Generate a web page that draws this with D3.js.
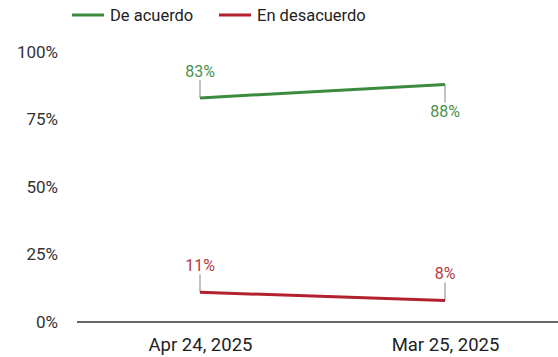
<!DOCTYPE html>
<html>
<head>
<meta charset="utf-8">
<script src="https://cdn.jsdelivr.net/npm/d3@7/dist/d3.min.js"></script>
<style>
  html, body { margin: 0; padding: 0; background: #fff; }
  svg { display: block; font-family: Roboto, "Noto Sans", sans-serif; }
</style>
</head>
<body>
<svg id="chart" width="558" height="357"></svg>
<script>
// Survey results at two dates
const dates = ["Apr 24, 2025", "Mar 25, 2025"];
const seriesNames = ["De acuerdo", "En desacuerdo"];
const agreeValues = [83, 88];
const disagreeValues = [11, 8];
const yTicks = [0, 25, 50, 75, 100];
const colors = ["#3b8a3e", "#b3202e"];
const labelColors = ["#4a8f4c", "#b33a44"];
// Label placement per point: -1 above, +1 below
const agreeLabelSide = [-1, 1];
const disagreeLabelSide = [-1, -1];

const svg = d3.select("#chart");
const W = 558;
const axisLeft = 77;

const x = d3.scalePoint().domain(dates).range([200, 445]);
const y = d3.scaleLinear().domain([0, 100]).range([322, 52]);

// Y tick labels (no gridlines)
const yAxis = d3.axisLeft(y).tickValues(yTicks).tickFormat(d => d + "%").tickSize(0).tickPadding(0);
const gy = svg.append("g").attr("transform", "translate(58,0)").call(yAxis);
gy.select(".domain").remove();
gy.selectAll("text").attr("font-size", 17).attr("fill", "#333").attr("font-family", "Roboto, sans-serif");

// X axis baseline with date labels
const xAxis = d3.axisBottom(x).tickSize(0).tickPadding(16);
const gx = svg.append("g").attr("transform", `translate(0,${y(0)})`).call(xAxis);
gx.select(".domain").attr("d", `M${axisLeft},0H${W}`).attr("stroke", "#333").attr("stroke-width", 1.3);
gx.selectAll("text").attr("font-size", 18.5).attr("fill", "#222").attr("font-family", "Roboto, sans-serif");

const series = [
  { name: seriesNames[0], values: agreeValues, sides: agreeLabelSide, color: colors[0], label: labelColors[0] },
  { name: seriesNames[1], values: disagreeValues, sides: disagreeLabelSide, color: colors[1], label: labelColors[1] }
];

const line = d3.line().x((d, i) => x(dates[i])).y(d => y(d));

series.forEach(s => {
  const g = svg.append("g");
  // leader lines from points to labels
  s.values.forEach((v, i) => {
    const px = x(dates[i]), py = y(v);
    const side = s.sides[i];
    g.append("line")
      .attr("x1", px).attr("x2", px)
      .attr("y1", py).attr("y2", py + side * 18)
      .attr("stroke", "#999").attr("stroke-width", 1.2);
    g.append("text")
      .attr("x", px).attr("y", py + side * 27)
      .attr("dy", "0.35em")
      .attr("text-anchor", "middle")
      .attr("font-size", 16)
      .attr("fill", s.label)
      .text(v + "%");
  });
  g.append("path")
    .datum(s.values)
    .attr("d", line)
    .attr("fill", "none")
    .attr("stroke", s.color)
    .attr("stroke-width", 3);
});

// Legend
const legend = svg.append("g").attr("transform", "translate(0,15)");
const legendX = [72, 219];
series.forEach((s, i) => {
  const lg = legend.append("g").attr("transform", `translate(${legendX[i]},0)`);
  lg.append("line").attr("x1", 0).attr("x2", 32).attr("y1", 0).attr("y2", 0)
    .attr("stroke", s.color).attr("stroke-width", 3);
  lg.append("text").attr("x", 38).attr("y", 0).attr("dy", "0.35em")
    .attr("font-size", 16.5).attr("fill", "#222").text(s.name);
});
</script>
</body>
</html>
